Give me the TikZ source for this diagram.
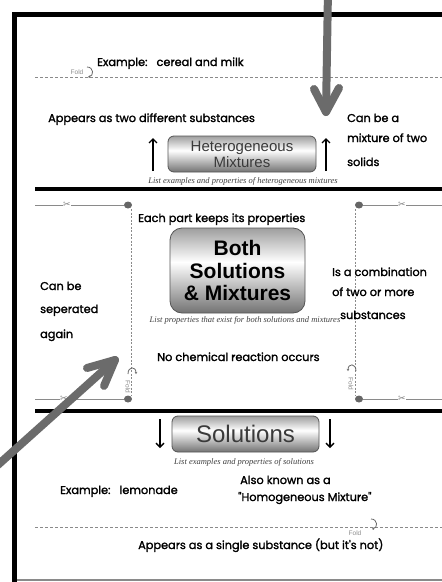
\documentclass[tikz,border=0pt]{standalone}
\usepackage{fontspec}
\setmainfont{Liberation Sans}
\newfontfamily\hand{Poppins}[FakeBold=1.6]
\newfontfamily\capfont{Liberation Serif}
\newfontfamily\symfont{DejaVu Sans}
\usetikzlibrary{arrows.meta,shapes.geometric}
\definecolor{arrowgray}{HTML}{6B6B6B}
\definecolor{linegray}{HTML}{8A8A8A}
\definecolor{boxtext}{HTML}{3A3A3A}
\definecolor{boxedge}{HTML}{555555}
\pgfdeclareverticalshading{metal}{100bp}{color(0bp)=(black!55); color(25bp)=(black!55); color(55bp)=(white); color(75bp)=(black!38); color(100bp)=(black!38)}
\tikzset{
  hand/.style={font=\hand\fontsize{11.3}{12}\selectfont, inner sep=0pt, anchor=base west},
  capt/.style={font=\capfont\itshape\fontsize{8.5}{9}\selectfont, text=black!75, inner sep=0pt, anchor=base},
  metalbox/.style={draw=boxedge, line width=0.8pt, shading=metal, rounded corners=6pt, inner sep=0pt, align=center},
  frame/.style={line width=5pt, black},
  divider/.style={line width=3.5pt, black},
  foldline/.style={linegray, line width=0.8pt, dash pattern=on 3pt off 2pt},
  dotline/.style={linegray, line width=0.9pt, dash pattern=on 2pt off 1.5pt},
  cutline/.style={linegray, line width=0.9pt},
  dotnode/.style={ellipse, fill=black!60, minimum width=8pt, minimum height=7pt, inner sep=0pt},
  scis/.style={font=\symfont\fontsize{9}{9}\selectfont, text=black!50, inner sep=0.5pt, fill=white},
  foldlbl/.style={font=\fontsize{6.5}{6.5}\selectfont, text=black!45, inner sep=0.5pt},
  foldcurl/.style={black!60, line width=0.8pt, -{Stealth[length=2pt,width=2.5pt]}},
  thinarrow/.style={black, line width=1.3pt, -{Straight Barb[length=4pt,width=8pt]}},
  bigarrow/.style={arrowgray, line width=8pt, line cap=round, line join=round}
}
\begin{document}
\begin{tikzpicture}[x=1pt,y=-1pt]
\useasboundingbox (0,0) rectangle (442,582);
\clip (0,0) rectangle (442,582);
\fill[white] (0,0) rectangle (442,582);

% frame
\coordinate (fr1) at (14.5,584);
\coordinate (fr2) at (14.5,14);
\coordinate (fr3) at (444,14);
\draw[frame] (fr1) -- (fr2) -- (fr3);
\coordinate (fb1) at (17,580);
\coordinate (fb2) at (444,580);
\draw[linegray, line width=1.2pt] (fb1) -- (fb2);

% fold lines
\coordinate (fl1a) at (35,77);
\coordinate (fl1b) at (444,77);
\draw[foldline] (fl1a) -- (fl1b);
\coordinate (fl2a) at (35,527);
\coordinate (fl2b) at (444,527);
\draw[foldline] (fl2a) -- (fl2b);

% dividers
\coordinate (dv1a) at (35,189);
\coordinate (dv1b) at (444,189);
\draw[divider] (dv1a) -- (dv1b);
\coordinate (dv2a) at (35,411);
\coordinate (dv2b) at (444,411);
\draw[divider] (dv2a) -- (dv2b);

% cut lines and dots
\node[dotnode] (d1) at (128,205) {};
\node[dotnode] (d2) at (359,205) {};
\node[dotnode] (d3) at (128,399) {};
\node[dotnode] (d4) at (359,399) {};
\coordinate (c1) at (35,205);
\coordinate (c2) at (444,205);
\coordinate (c3) at (35,399);
\coordinate (c4) at (444,399);
\draw[cutline] (c1) -- (d1);
\draw[cutline] (d2) -- (c2);
\draw[cutline] (c3) -- (d3);
\draw[cutline] (d4) -- (c4);
\coordinate (v1a) at (131,209);
\coordinate (v1b) at (131,396);
\coordinate (v2a) at (355,209);
\coordinate (v2b) at (355,396);
\draw[dotline] (v1a) -- (v1b);
\draw[dotline] (v2a) -- (v2b);
\node[scis] (s1) at (67,205) {✂};
\node[scis] (s2) at (402,205) {✂};
\node[scis] (s3) at (64,399) {✂};
\node[scis] (s4) at (402,399) {✂};

% fold labels
\node[foldlbl, anchor=base west] (fo1) at (70,74) {Fold};
\draw[foldcurl] (87,67) .. controls (94,67) and (94,76) .. (88,77);
\node[foldlbl, anchor=base west] (fo2) at (348,535) {Fold};
\draw[foldcurl] (371,519) .. controls (378,519) and (378,528) .. (372,529);
\node[foldlbl, rotate=-90] (fo3) at (128,387) {Fold};
\draw[foldcurl] (128,374) .. controls (128,366) and (136,366) .. (136,374);
\node[foldlbl, rotate=-90] (fo4) at (351,384) {Fold};
\draw[foldcurl] (356,371) .. controls (356,363) and (348,363) .. (348,371);

% boxes
\node[metalbox, minimum width=148pt, minimum height=36pt, text=boxtext,
      font=\fontsize{15}{16}\selectfont] (het) at (242,154) {Heterogeneous\\Mixtures};
\node[metalbox, rounded corners=12pt, minimum width=135pt, minimum height=85pt,
      font=\bfseries\fontsize{21}{22.5}\selectfont] (both) at (237.5,270.5) {Both\\Solutions\\\& Mixtures};
\node[metalbox, minimum width=147pt, minimum height=36pt, text=boxtext,
      font=\fontsize{24}{26}\selectfont] (sol) at (245.5,434) {Solutions};

% captions
\node[capt] (cap1) at (243,183) {List examples and properties of heterogeneous mixtures};
\node[capt] (cap2) at (245,322) {List properties that exist for both solutions and mixtures};
\node[capt] (cap3) at (244,464) {List examples and properties of solutions};

% thin arrows
\coordinate (ua1s) at (153,171);
\coordinate (ua1e) at (153,138);
\coordinate (ua2s) at (326,171);
\coordinate (ua2e) at (326,138);
\draw[thinarrow] (ua1s) -- (ua1e);
\draw[thinarrow] (ua2s) -- (ua2e);
\coordinate (da1s) at (160,419);
\coordinate (da1e) at (160,448);
\coordinate (da2s) at (330,419);
\coordinate (da2e) at (330,448);
\draw[thinarrow] (da1s) -- (da1e);
\draw[thinarrow] (da2s) -- (da2e);

% big gray arrows
\coordinate (ga1t) at (328,-10);
\coordinate (ga1h) at (326,112);
\coordinate (ga1l) at (314,89);
\coordinate (ga1r) at (339,88);
\draw[bigarrow] (ga1t) -- (ga1h);
\draw[bigarrow] (ga1l) -- (ga1h) -- (ga1r);
\coordinate (ga2t) at (-10,472);
\coordinate (ga2h) at (115,360);
\coordinate (ga2l) at (87,368);
\coordinate (ga2r) at (104,386);
\draw[bigarrow] (ga2t) -- (ga2h);
\draw[bigarrow] (ga2l) -- (ga2h) -- (ga2r);

% handwritten texts
\node[hand] (t1) at (97,66) {Example:\ \ \ cereal and milk};
\node[hand] (t2) at (48,122) {Appears as two different substances};
\node[hand] (t3a) at (347,122) {Can be a};
\node[hand] (t3b) at (347,142) {mixture of two};
\node[hand] (t3c) at (347,166) {solids};
\node[hand] (t4) at (138,222) {Each part keeps its properties};
\node[hand] (t5a) at (40,290) {Can be};
\node[hand] (t5b) at (40,313) {seperated};
\node[hand] (t5c) at (40,338) {again};
\node[hand] (t6a) at (332,276) {Is a combination};
\node[hand] (t6b) at (332,296) {of two or more};
\node[hand] (t6c) at (340,319) {substances};
\node[hand] (t7) at (157,361) {No chemical reaction occurs};
\node[hand] (t8) at (60,494) {Example:\ \ \ lemonade};
\node[hand] (t9a) at (240,484) {Also known as a};
\node[hand] (t9b) at (238,501) {"Homogeneous Mixture"};
\node[hand] (t10) at (138,549) {Appears as a single substance (but it's not)};
\end{tikzpicture}
\end{document}
